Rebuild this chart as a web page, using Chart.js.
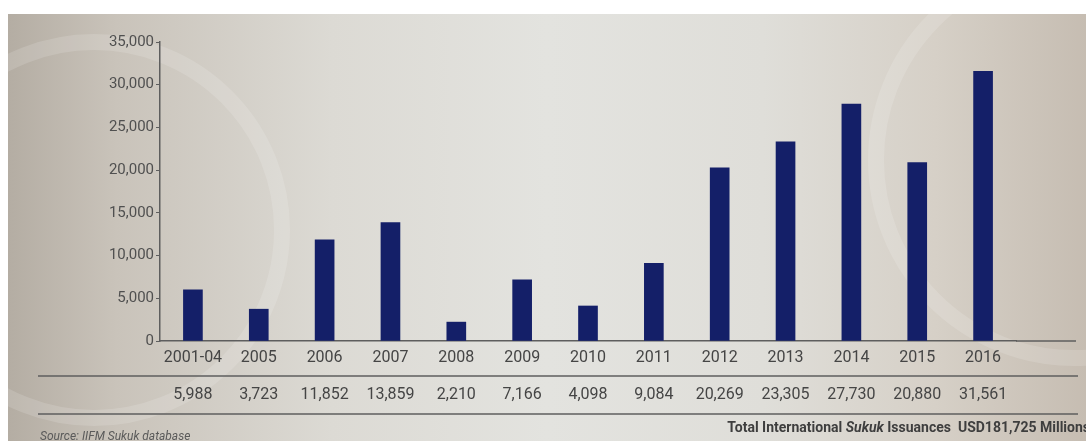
<!DOCTYPE html>
<html>
<head>
<meta charset="utf-8">
<script src="https://cdn.jsdelivr.net/npm/chart.js@4"></script>
<style>
    html, body {
        margin: 0;
        padding: 0;
        width: 1086px;
        height: 441px;
        overflow: hidden;
        background: #ffffff;
    }
    #sheet {
        position: absolute;
        left: 8px;
        top: 14px;
        width: 1078px;
        height: 427px;
        overflow: hidden;
        background: linear-gradient(90deg, #b4ada3 0%, #c9c3ba 10%, #dcdad4 30%, #e3e3df 50%, #dfded9 70%, #d6d0c7 86%, #c6bdb2 100%);
    }
    .ring {
        position: absolute;
        border-radius: 50%;
        border: 16px solid rgba(255, 255, 255, 0.14);
    }
    #chart {
        position: absolute;
        left: 0;
        top: 0;
    }
</style>
</head>
<body>
<div id="sheet">
    <div class="ring" style="left:-110px; top:20px; width:360px; height:360px;"></div>
    <div class="ring" style="left:860px; top:-60px; width:380px; height:380px;"></div>
</div>
<canvas id="chart" width="1086" height="441"></canvas>
<script>
// Sukuk issuance per year (USD millions)
const categories = ['2001-04', '2005', '2006', '2007', '2008', '2009', '2010', '2011', '2012', '2013', '2014', '2015', '2016'];
const issuance = [5988, 3723, 11852, 13859, 2210, 7166, 4098, 9084, 20269, 23305, 27730, 20880, 31561];
const yTicks = [0, 5000, 10000, 15000, 20000, 25000, 30000, 35000];
const sourceText = 'Source: IIFM Sukuk database';

const textColor = '#454545';
const lineColor = '#5e5e5e';
const fmt = n => n.toLocaleString('en-US');

// Value row, table rules and footer under the axis
const tablePlugin = {
    id: 'issuanceTable',
    afterDraw(chart) {
        const ctx = chart.ctx;
        const x = chart.scales.x;
        const area = chart.chartArea;
        ctx.save();

        // baseline runs on past the last bar
        ctx.strokeStyle = lineColor;
        ctx.lineWidth = 1.5;
        ctx.beginPath();
        ctx.moveTo(area.right, area.bottom);
        ctx.lineTo(1076, area.bottom);
        ctx.stroke();

        // rules around the value row
        [376, 414].forEach(y => {
            ctx.beginPath();
            ctx.moveTo(38, y);
            ctx.lineTo(1078, y);
            ctx.stroke();
        });

        ctx.fillStyle = textColor;
        ctx.font = '16px Roboto';
        ctx.textAlign = 'center';
        ctx.textBaseline = 'middle';
        issuance.forEach((v, i) => {
            ctx.fillText(fmt(v), x.getPixelForValue(i), 395);
        });

        const total = issuance.reduce((s, v) => s + v, 0);
        ctx.textBaseline = 'alphabetic';
        ctx.textAlign = 'left';
        ctx.font = 'italic 12px Roboto';
        ctx.fillStyle = '#5a5a5a';
        ctx.fillText(sourceText, 40, 440);

        // footer total, "Sukuk" in italics
        const parts = [
            ['bold 14px Roboto', 'Total International '],
            ['italic bold 14px Roboto', 'Sukuk'],
            ['bold 14px Roboto', ' Issuances  USD' + fmt(total) + ' Millions']
        ];
        let width = 0;
        parts.forEach(p => { ctx.font = p[0]; width += ctx.measureText(p[1]).width; });
        let cx = 1090 - width;
        ctx.fillStyle = '#3e3e3e';
        parts.forEach(p => {
            ctx.font = p[0];
            ctx.fillText(p[1], cx, 432);
            cx += ctx.measureText(p[1]).width;
        });
        ctx.restore();
    }
};

new Chart(document.getElementById('chart').getContext('2d'), {
    type: 'bar',
    data: {
        labels: categories,
        datasets: [{
            data: issuance,
            backgroundColor: '#141f68',
            barThickness: 19
        }]
    },
    options: {
        responsive: false,
        animation: false,
        layout: {
            padding: { top: 42, right: 70, left: 0, bottom: 0 }
        },
        plugins: {
            legend: { display: false },
            tooltip: { enabled: false }
        },
        scales: {
            x: {
                grid: { display: false, drawTicks: false },
                border: { display: true, color: lineColor, width: 1.5 },
                ticks: {
                    color: textColor,
                    padding: 7,
                    font: { family: 'Roboto', size: 16 }
                },
                afterFit(scale) { scale.height = 100; }
            },
            y: {
                min: yTicks[0],
                max: yTicks[yTicks.length - 1],
                afterBuildTicks(scale) {
                    scale.ticks = yTicks.map(v => ({ value: v }));
                },
                grid: { drawOnChartArea: false, tickLength: 4, color: lineColor },
                border: { color: lineColor, width: 1.5 },
                ticks: {
                    color: '#505050',
                    padding: 2,
                    font: { family: 'Roboto', size: 15 },
                    callback: v => fmt(v)
                },
                afterFit(scale) { scale.width = 160; }
            }
        }
    },
    plugins: [tablePlugin]
});
</script>
</body>
</html>
